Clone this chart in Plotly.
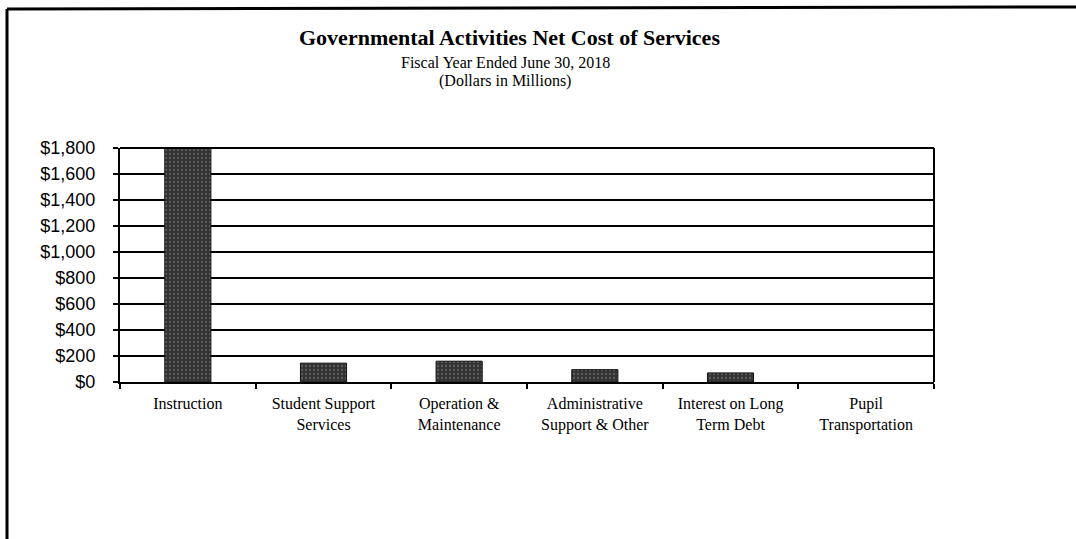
import plotly.graph_objects as go

# Net cost of services by function, FY ended June 30, 2018 (dollars in millions)
categories = [
    "Instruction",
    "Student Support<br>Services",
    "Operation &<br>Maintenance",
    "Administrative<br>Support & Other",
    "Interest on Long<br>Term Debt",
    "Pupil<br>Transportation",
]
net_cost = [1800, 145, 160, 95, 70, 0]

y_ticks = [0, 200, 400, 600, 800, 1000, 1200, 1400, 1600, 1800]
y_tick_text = ["$0", "$200", "$400", "$600", "$800", "$1,000", "$1,200", "$1,400", "$1,600", "$1,800"]

title_main = "Governmental Activities Net Cost of Services"
title_sub1 = "Fiscal Year Ended June 30, 2018"
title_sub2 = "(Dollars in Millions)"

W, H = 1076, 539
L, R, T, B = 120, 142, 148, 157
pw, ph = W - L - R, H - T - B


def px_x(px):
    return (px - L) / pw


def px_y(py):
    return (H - B - py) / ph


# no outline on empty bars so a zero value leaves no stub on the axis
edge_widths = [1 if v > 0 else 0 for v in net_cost]

fig = go.Figure()
fig.add_trace(go.Bar(
    x=categories,
    y=net_cost,
    marker=dict(
        color="#3a3a3a",
        line=dict(color="#111111", width=edge_widths),
        pattern=dict(shape=".", fgcolor="#8a8a8a", bgcolor="#333333", size=4, solidity=0.25),
    ),
    showlegend=False,
))

serif = "Liberation Serif, Times New Roman, serif"
sans = "Liberation Sans, Arial, sans-serif"

fig.update_layout(
    width=W, height=H,
    margin=dict(l=L, r=R, t=T, b=B, autoexpand=False),
    paper_bgcolor="white",
    plot_bgcolor="white",
    bargap=0.66,
    xaxis=dict(
        showline=True, linecolor="black", linewidth=2,
        mirror=False,
        ticks="outside", tickson="boundaries", ticklen=5, tickcolor="black", tickwidth=2,
        tickfont=dict(family=serif, size=16, color="black"),
        ticklabelstandoff=6,
        showgrid=False,
    ),
    yaxis=dict(
        range=[0, 1800],
        tickvals=y_ticks, ticktext=y_tick_text,
        showline=True, linecolor="black", linewidth=2,
        ticks="outside", ticklen=5, tickcolor="black", tickwidth=2,
        tickfont=dict(family=sans, size=18, color="black"),
        ticklabelstandoff=14,
        showgrid=True, gridcolor="black", gridwidth=2,
        zeroline=False,
    ),
    annotations=[
        dict(text="<b>" + title_main + "</b>", x=px_x(509), y=px_y(38), xref="paper", yref="paper",
             showarrow=False, font=dict(family=serif, size=22, color="black"), xanchor="center", yanchor="middle"),
        dict(text=title_sub1, x=px_x(505), y=px_y(63), xref="paper", yref="paper",
             showarrow=False, font=dict(family=serif, size=16, color="black"), xanchor="center", yanchor="middle"),
        dict(text=title_sub2, x=px_x(505), y=px_y(81), xref="paper", yref="paper",
             showarrow=False, font=dict(family=serif, size=16, color="black"), xanchor="center", yanchor="middle"),
    ],
    shapes=[
        # top and right edges of the plotting area
        dict(type="line", xref="paper", yref="paper", x0=0, x1=1, y0=1, y1=1,
             line=dict(color="black", width=2)),
        dict(type="line", xref="paper", yref="paper", x0=1, x1=1, y0=0, y1=1,
             line=dict(color="black", width=2)),
        # outer frame around the exhibit (top and left edges)
        dict(type="line", xref="paper", yref="paper", x0=px_x(7), x1=px_x(1080), y0=px_y(9), y1=px_y(7),
             line=dict(color="black", width=3)),
        dict(type="line", xref="paper", yref="paper", x0=px_x(7), x1=px_x(7), y0=px_y(9), y1=px_y(545),
             line=dict(color="black", width=3)),
    ],
)

fig.write_html("out.html")
